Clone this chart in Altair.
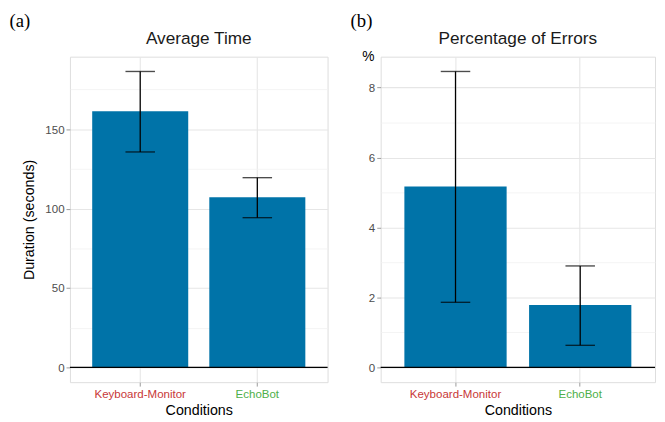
import altair as alt
import pandas as pd

# ---- data ----
conditions = ["Keyboard-Monitor", "EchoBot"]
label_colors = ["#C83737", "#4DAF4A"]

time_mean = [161.4, 107.1]
time_lo = [135.7, 94.3]
time_hi = [186.4, 119.5]

err_mean = [5.17, 1.78]
err_lo = [1.86, 0.63]
err_hi = [8.46, 2.90]

time_ticks = [0, 25, 50, 75, 100, 125, 150, 175]
err_ticks = [0, 1, 2, 3, 4, 5, 6, 7, 8]
zero_line = [0]

BAR = "#0073A8"
FONT = "Liberation Sans"
SERIF = "Liberation Serif"

label_color_cond = {
    "condition": {"test": f"datum.value == '{conditions[0]}'", "value": label_colors[0]},
    "value": label_colors[1],
}


def expanded(lo, hi, mult=0.05):
    r = hi - lo
    return [lo - r * mult, hi + r * mult]


def panel(means, los, his, ticks, major_step, ytitle, title, tag, width, height,
          title_opts, tag_x):
    df = pd.DataFrame({"cond": conditions, "mean": means, "lo": los, "hi": his})
    dom = expanded(0, max(his))
    yscale = alt.Scale(domain=dom, nice=False, zero=False)
    major = f"datum.value % {major_step} == 0"
    yaxis = alt.Axis(
        values=ticks,
        labelExpr=f"{major} ? datum.label : ''",
        gridColor={"condition": {"test": major, "value": "#e6e6e6"}, "value": "#f1f1f1"},
        gridWidth={"condition": {"test": major, "value": 1.1}, "value": 0.8},
        tickColor={"condition": {"test": major, "value": "#9a9a9a"}, "value": "transparent"},
        tickSize=4,
        labelPadding=2,
        labelColor="#4d4d4d",
        labelFontSize=11.7,
        labelFont=FONT,
        domain=False,
        title=ytitle,
        titleFont=FONT,
        titleFontWeight="normal",
        titleColor="#000000",
        **title_opts,
    )
    xscale = alt.Scale(paddingInner=0.18, paddingOuter=0.19)
    xaxis = alt.Axis(
        title="Conditions",
        titleFont=FONT,
        titleFontSize=14.5,
        titleFontWeight="normal",
        titleColor="#000000",
        titlePadding=3,
        labelAngle=0,
        labelFont=FONT,
        labelFontSize=11.7,
        labelColor=label_color_cond,
        labelPadding=3,
        bandPosition=0.5,
        grid=True,
        gridColor="#e6e6e6",
        gridWidth=1.1,
        tickColor="#9a9a9a",
        tickSize=4,
        domain=False,
    )
    x = alt.X("cond:N", sort=conditions, scale=xscale, axis=xaxis)
    base = alt.Chart(df)
    bars = base.mark_bar(color=BAR).encode(
        x=x, y=alt.Y("mean:Q", scale=yscale, axis=yaxis)
    )
    whisk = base.mark_rule(color="black", strokeWidth=1.3).encode(
        x=alt.X("cond:N", sort=conditions), y="lo:Q", y2="hi:Q"
    )
    cap_lo = base.mark_tick(color="black", size=30, thickness=1.4).encode(
        x=alt.X("cond:N", sort=conditions), y="lo:Q"
    )
    cap_hi = base.mark_tick(color="black", size=30, thickness=1.4).encode(
        x=alt.X("cond:N", sort=conditions), y="hi:Q"
    )
    zero = alt.Chart(pd.DataFrame({"v": zero_line})).mark_rule(
        color="black", strokeWidth=1.3
    ).encode(y="v:Q")
    tagmark = alt.Chart(pd.DataFrame({"t": [tag]})).mark_text(
        font=SERIF, fontSize=19, align="center", baseline="alphabetic", color="#000000"
    ).encode(text="t:N", x=alt.value(tag_x), y=alt.value(-30))
    titlemark = alt.Chart(pd.DataFrame({"t": [title]})).mark_text(
        font=FONT, fontSize=17.5, align="center", baseline="alphabetic", color="#1a1a1a"
    ).encode(text="t:N", x=alt.value(width / 2), y=alt.value(-12.5))
    return alt.layer(bars, whisk, cap_lo, cap_hi, zero, tagmark, titlemark).properties(
        width=width, height=height,
    )


left = panel(time_mean, time_lo, time_hi, time_ticks, 50, "Duration (seconds)",
             "Average Time", "(a)", 262, 331,
             dict(titleFontSize=14.5, titlePadding=9), -51)
right = panel(err_mean, err_lo, err_hi, err_ticks, 2, "%",
              "Percentage of Errors", "(b)", 279, 331,
              dict(titleFontSize=14, titleAngle=0, titleX=-13, titleY=0,
                   titleAlign="center", titleBaseline="middle"), -19.5)

chart = alt.hconcat(left, right, spacing=20).properties(
    padding={"left": 0, "top": 0, "right": 0, "bottom": 0}
).configure_view(stroke="#a6a6a6", strokeWidth=1.1).configure(background="white")

chart.save("out.html", embed_options={"renderer": "svg", "actions": False})
